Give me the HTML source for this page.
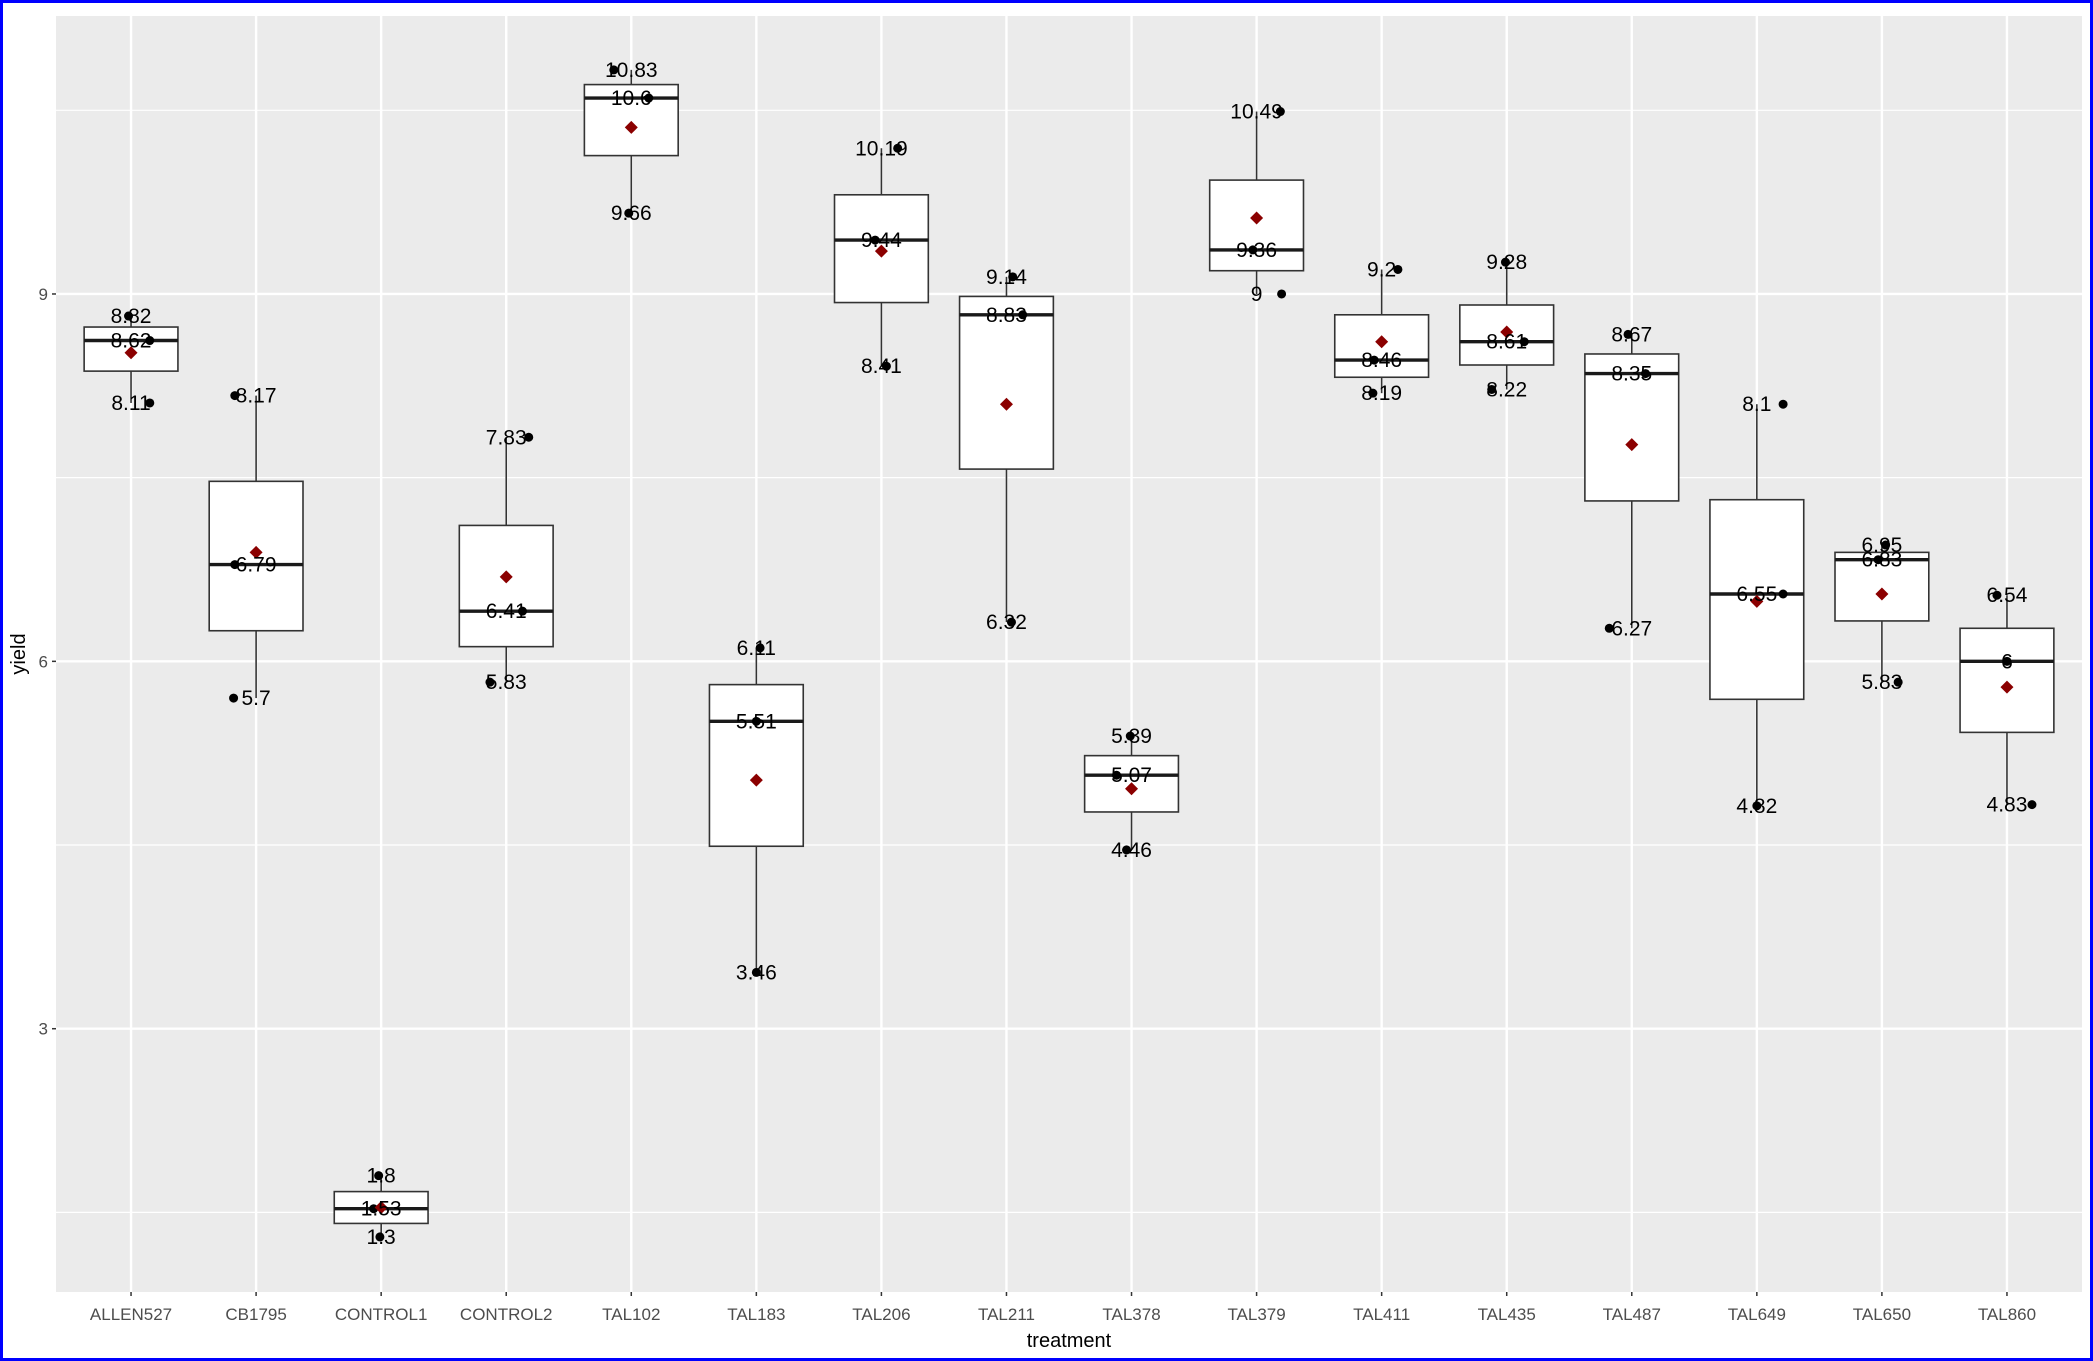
<!DOCTYPE html>
<html>
<head>
<meta charset="utf-8">
<style>
  html,body{margin:0;padding:0;background:#fff;}
  #wrap{position:relative;width:2093px;height:1361px;box-sizing:border-box;border:3px solid #0000ff;background:#fff;overflow:hidden;}
  svg{position:absolute;left:-3px;top:-3px;}
  text{font-family:"Liberation Sans",Arial,sans-serif;}
</style>
</head>
<body>
<div id="wrap">
<svg id="chart" width="2093" height="1361"></svg>
</div>
<script>
const categories = ["ALLEN527","CB1795","CONTROL1","CONTROL2","TAL102","TAL183","TAL206","TAL211","TAL378","TAL379","TAL411","TAL435","TAL487","TAL649","TAL650","TAL860"];
const q1Vals     = [8.37,6.25,1.41,6.12,10.13,4.49,8.93,7.57,4.77,9.19,8.32,8.42,7.31,5.69,6.33,5.42];
const medianVals = [8.62,6.79,1.53,6.41,10.6,5.51,9.44,8.83,5.07,9.36,8.46,8.61,8.35,6.55,6.83,6.0];
const q3Vals     = [8.73,7.47,1.67,7.11,10.71,5.81,9.81,8.98,5.23,9.93,8.83,8.91,8.51,7.32,6.89,6.27];
const lowerVals  = [8.11,5.7,1.3,5.83,9.66,3.46,8.41,6.32,4.46,9.0,8.19,8.22,6.27,4.82,5.83,4.83];
const upperVals  = [8.82,8.17,1.8,7.83,10.83,6.11,10.19,9.14,5.39,10.49,9.2,9.26,8.67,8.1,6.95,6.54];
const meanVals   = [8.52,6.89,1.54,6.69,10.36,5.03,9.35,8.1,4.96,9.62,8.61,8.69,7.77,6.49,6.55,5.79];
const pointVals  = [[8.82,8.62,8.11],[8.17,6.79,5.7],[1.8,1.53,1.3],[7.83,6.41,5.83],[10.83,10.6,9.66],[6.11,5.51,3.46],[10.19,9.44,8.41],[9.14,8.83,6.32],[5.39,5.07,4.46],[10.49,9.36,9.0],[9.2,8.46,8.19],[9.26,8.61,8.22],[8.67,8.35,6.27],[8.1,6.55,4.82],[6.95,6.83,5.83],[6.54,6.0,4.83]];
const pointLabels = [["8.82","8.62","8.11"],["8.17","6.79","5.7"],["1.8","1.53","1.3"],["7.83","6.41","5.83"],["10.83","10.6","9.66"],["6.11","5.51","3.46"],["10.19","9.44","8.41"],["9.14","8.83","6.32"],["5.39","5.07","4.46"],["10.49","9.36","9"],["9.2","8.46","8.19"],["9.28","8.61","8.22"],["8.67","8.35","6.27"],["8.1","6.55","4.82"],["6.95","6.83","5.83"],["6.54","6","4.83"]];
const jitter = [[-0.02,0.15,0.15],[-0.17,-0.17,-0.18],[-0.02,-0.06,-0.01],[0.18,0.13,-0.13],[-0.14,0.14,-0.02],[0.03,0.0,0.0],[0.13,-0.05,0.04],[0.05,0.13,0.04],[-0.01,-0.12,-0.04],[0.19,-0.03,0.2],[0.13,-0.06,-0.07],[-0.01,0.14,-0.12],[-0.03,0.11,-0.18],[0.21,0.21,0.0],[0.03,-0.03,0.13],[-0.08,0.0,0.2]];
const majorTicks = [3,6,9];
const minorTicks = [1.5,4.5,7.5,10.5];

const NS = "http://www.w3.org/2000/svg";
const svg = document.getElementById("chart");
const P = {l:56, t:16, r:2082, b:1292};
const yMin = 0.85, yMax = 11.27;
function yScale(v){ return P.b - (v - yMin) / (yMax - yMin) * (P.b - P.t); }
const n = categories.length;
const step = (P.r - P.l) / (n - 1 + 1.2);
function xScale(i){ return P.l + (i + 0.6) * step; }
function mk(tag, attrs, parent){
  const e = document.createElementNS(NS, tag);
  for (const k in attrs) e.setAttribute(k, attrs[k]);
  (parent || svg).appendChild(e);
  return e;
}

const bg = mk("rect",{x:P.l,y:P.t,width:P.r-P.l,height:P.b-P.t,fill:"#ebebeb"});



minorTicks.forEach(v=>{
  const g = mk("line",{x1:P.l,x2:P.r,y1:yScale(v),y2:yScale(v),stroke:"#fff","stroke-width":1.2});
  
  
});
majorTicks.forEach(v=>{
  const g = mk("line",{x1:P.l,x2:P.r,y1:yScale(v),y2:yScale(v),stroke:"#fff","stroke-width":2.4});
  
  
  const t = mk("line",{x1:P.l-4,x2:P.l,y1:yScale(v),y2:yScale(v),stroke:"#333","stroke-width":1.5});
  
  
  const lb = mk("text",{x:P.l-8,y:yScale(v)+6,"text-anchor":"end","font-size":17,fill:"#4d4d4d"});
  lb.textContent = v;
  
  
});
categories.forEach((c,i)=>{
  const x = xScale(i);
  const g = mk("line",{x1:x,x2:x,y1:P.t,y2:P.b,stroke:"#fff","stroke-width":2.4});
  
  
  const t = mk("line",{x1:x,x2:x,y1:P.b,y2:P.b+4,stroke:"#333","stroke-width":1.5});
  
  
  const lb = mk("text",{x:x,y:P.b+28,"text-anchor":"middle","font-size":17,fill:"#4d4d4d"});
  lb.textContent = c;
  
  
});

const bw = step * 0.75;
categories.forEach((c,i)=>{
  const x = xScale(i);
  const g = mk("g",{});
  
  
  mk("line",{x1:x,x2:x,y1:yScale(upperVals[i]),y2:yScale(q3Vals[i]),stroke:"#333","stroke-width":1.6},g);
  mk("line",{x1:x,x2:x,y1:yScale(q1Vals[i]),y2:yScale(lowerVals[i]),stroke:"#333","stroke-width":1.6},g);
  mk("rect",{x:x-bw/2,y:yScale(q3Vals[i]),width:bw,height:yScale(q1Vals[i])-yScale(q3Vals[i]),fill:"#fff",stroke:"#333","stroke-width":1.6},g);
  mk("line",{x1:x-bw/2,x2:x+bw/2,y1:yScale(medianVals[i]),y2:yScale(medianVals[i]),stroke:"#1a1a1a","stroke-width":3.4},g);
});
categories.forEach((c,i)=>{
  const x = xScale(i);
  pointVals[i].forEach((v,j)=>{
    const p = mk("circle",{cx:x + jitter[i][j]*step, cy:yScale(v), r:4.5, fill:"#000"});
    
    
  });
  const ym = yScale(meanVals[i]), d = 6.5;
  const m = mk("polygon",{points:`${x},${ym-d} ${x+d},${ym} ${x},${ym+d} ${x-d},${ym}`,fill:"#8b0000"});
  
  
  pointVals[i].forEach((v,j)=>{
    const t = mk("text",{x:x,y:yScale(v)+7,"text-anchor":"middle","font-size":21,fill:"#000"});
    t.textContent = pointLabels[i][j];
    
    
  });
});

const xt = mk("text",{x:(P.l+P.r)/2,y:1347,"text-anchor":"middle","font-size":20,fill:"#000"});
xt.textContent = "treatment";


const yt = mk("text",{x:0,y:0,"text-anchor":"middle","font-size":20,fill:"#000",transform:`translate(25,${(P.t+P.b)/2}) rotate(-90)`});
yt.textContent = "yield";


</script>
</body>
</html>
